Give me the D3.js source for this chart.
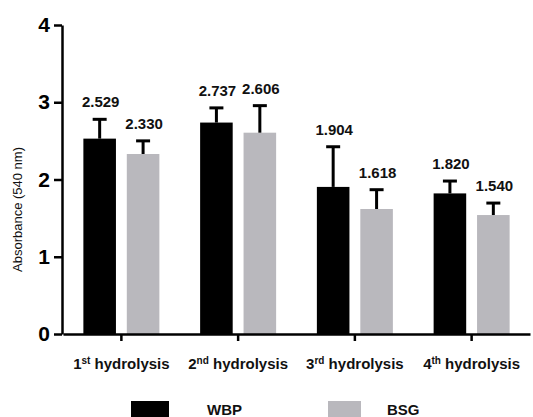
<!DOCTYPE html>
<html>
<head>
<meta charset="utf-8">
<script src="https://cdn.jsdelivr.net/npm/d3@7"></script>
<style>
  body { margin: 0; background: #fff; }
  svg { display: block; font-family: "Liberation Sans", Arial, sans-serif; }
</style>
</head>
<body>
<div id="chart"></div>
<script>
const categories = ["1st hydrolysis", "2nd hydrolysis", "3rd hydrolysis", "4th hydrolysis"];
const seriesNames = ["WBP", "BSG"];
const wbpValues = [2.529, 2.737, 1.904, 1.820];
const bsgValues = [2.330, 2.606, 1.618, 1.540];
const wbpErrors = [0.25, 0.19, 0.52, 0.16];
const bsgErrors = [0.17, 0.35, 0.25, 0.155];
const yTicks = [0, 1, 2, 3, 4];
const colors = ["#000000", "#b9b8bd"];

const width = 533, height = 417;
const margin = { top: 25, right: 3, bottom: 83, left: 63 };

const svg = d3.select("#chart").append("svg")
  .attr("width", width)
  .attr("height", height);

// scales
const x0 = d3.scaleBand()
  .domain(categories)
  .range([margin.left, width - margin.right])
  .paddingInner(0);

const x1 = d3.scaleBand()
  .domain(seriesNames)
  .range([-38, 38])
  .paddingInner(0.25);

const y = d3.scaleLinear()
  .domain([0, 4])
  .range([height - margin.bottom, margin.top]);

// rows built from the arrays
const rows = categories.map((c, i) => ({
  cat: c,
  bars: [
    { name: "WBP", value: wbpValues[i], err: wbpErrors[i] },
    { name: "BSG", value: bsgValues[i], err: bsgErrors[i] }
  ]
}));

const color = d3.scaleOrdinal().domain(seriesNames).range(colors);

// bars
const groups = svg.append("g")
  .selectAll("g")
  .data(rows)
  .join("g")
  .attr("transform", d => `translate(${x0(d.cat) + x0.bandwidth() / 2},0)`);

groups.selectAll("rect")
  .data(d => d.bars)
  .join("rect")
  .attr("x", d => x1(d.name))
  .attr("width", x1.bandwidth())
  .attr("y", d => y(d.value))
  .attr("height", d => y(0) - y(d.value))
  .attr("fill", d => color(d.name));

// error bars (upper only)
const err = groups.selectAll("g.err")
  .data(d => d.bars)
  .join("g")
  .attr("class", "err")
  .attr("stroke", "#000")
  .attr("stroke-width", 3);

err.append("line")
  .attr("x1", d => x1(d.name) + x1.bandwidth() / 2)
  .attr("x2", d => x1(d.name) + x1.bandwidth() / 2)
  .attr("y1", d => y(d.value))
  .attr("y2", d => y(d.value + d.err));

err.append("line")
  .attr("x1", d => x1(d.name) + x1.bandwidth() / 2 - 7)
  .attr("x2", d => x1(d.name) + x1.bandwidth() / 2 + 7)
  .attr("y1", d => y(d.value + d.err))
  .attr("y2", d => y(d.value + d.err));

// value labels
groups.selectAll("text.val")
  .data(d => d.bars)
  .join("text")
  .attr("class", "val")
  .attr("x", d => x1(d.name) + x1.bandwidth() / 2 + 1)
  .attr("y", d => y(d.value + d.err) - 12)
  .attr("text-anchor", "middle")
  .attr("font-size", 15)
  .attr("font-weight", "bold")
  .attr("fill", "#111")
  .text(d => d.value.toFixed(3));

// y axis
const yAxis = svg.append("g")
  .attr("transform", `translate(${margin.left - 1},0)`)
  .call(d3.axisLeft(y).tickValues(yTicks).tickFormat(d3.format("d"))
    .tickSize(8).tickSizeOuter(0).tickPadding(4));
yAxis.select(".domain").attr("stroke-width", 2.5);
yAxis.selectAll(".tick line").attr("stroke-width", 2.5);
yAxis.selectAll(".tick text")
  .attr("font-size", 21)
  .attr("font-weight", "bold")
  .attr("font-family", "Liberation Sans, Arial, sans-serif")
  .attr("fill", "#000");

// x axis
const xAxis = svg.append("g")
  .attr("transform", `translate(0,${y(0)})`)
  .call(d3.axisBottom(x0).tickSize(7).tickSizeOuter(0));
xAxis.select(".domain").attr("stroke-width", 2.5);
xAxis.selectAll(".tick line").attr("stroke-width", 2.5);
xAxis.selectAll(".tick text").remove();

// category labels with superscript suffix
xAxis.selectAll(".tick").each(function (d) {
  const m = d.match(/^(\d+)(\D+?) (.*)$/);
  const t = d3.select(this).append("text")
    .attr("y", 35)
    .attr("text-anchor", "middle")
    .attr("font-size", 15)
    .attr("font-weight", "bold")
    .attr("font-family", "Liberation Sans, Arial, sans-serif")
    .attr("fill", "#111");
  t.append("tspan").text(m[1]);
  t.append("tspan").attr("font-size", 10).attr("dy", -5).text(m[2]);
  t.append("tspan").attr("dy", 5).text(" " + m[3]);
});

// y axis title
svg.append("text")
  .attr("transform", `translate(22,${(margin.top + y(0)) / 2 + 30}) rotate(-90)`)
  .attr("text-anchor", "middle")
  .attr("font-size", 13)
  .attr("fill", "#111")
  .text("Absorbance (540 nm)");

// legend
const legendX = [131, 328];
const legend = svg.append("g")
  .selectAll("g")
  .data(seriesNames)
  .join("g")
  .attr("transform", (d, i) => `translate(${legendX[i]},401)`);

legend.append("rect")
  .attr("width", (d, i) => (i === 0 ? 38 : 33))
  .attr("height", 20)
  .attr("fill", d => color(d));

legend.append("text")
  .attr("x", (d, i) => (i === 0 ? 76 : 59))
  .attr("y", 14)
  .attr("font-size", 15)
  .attr("font-weight", "bold")
  .attr("fill", "#111")
  .text(d => d);
</script>
</body>
</html>
